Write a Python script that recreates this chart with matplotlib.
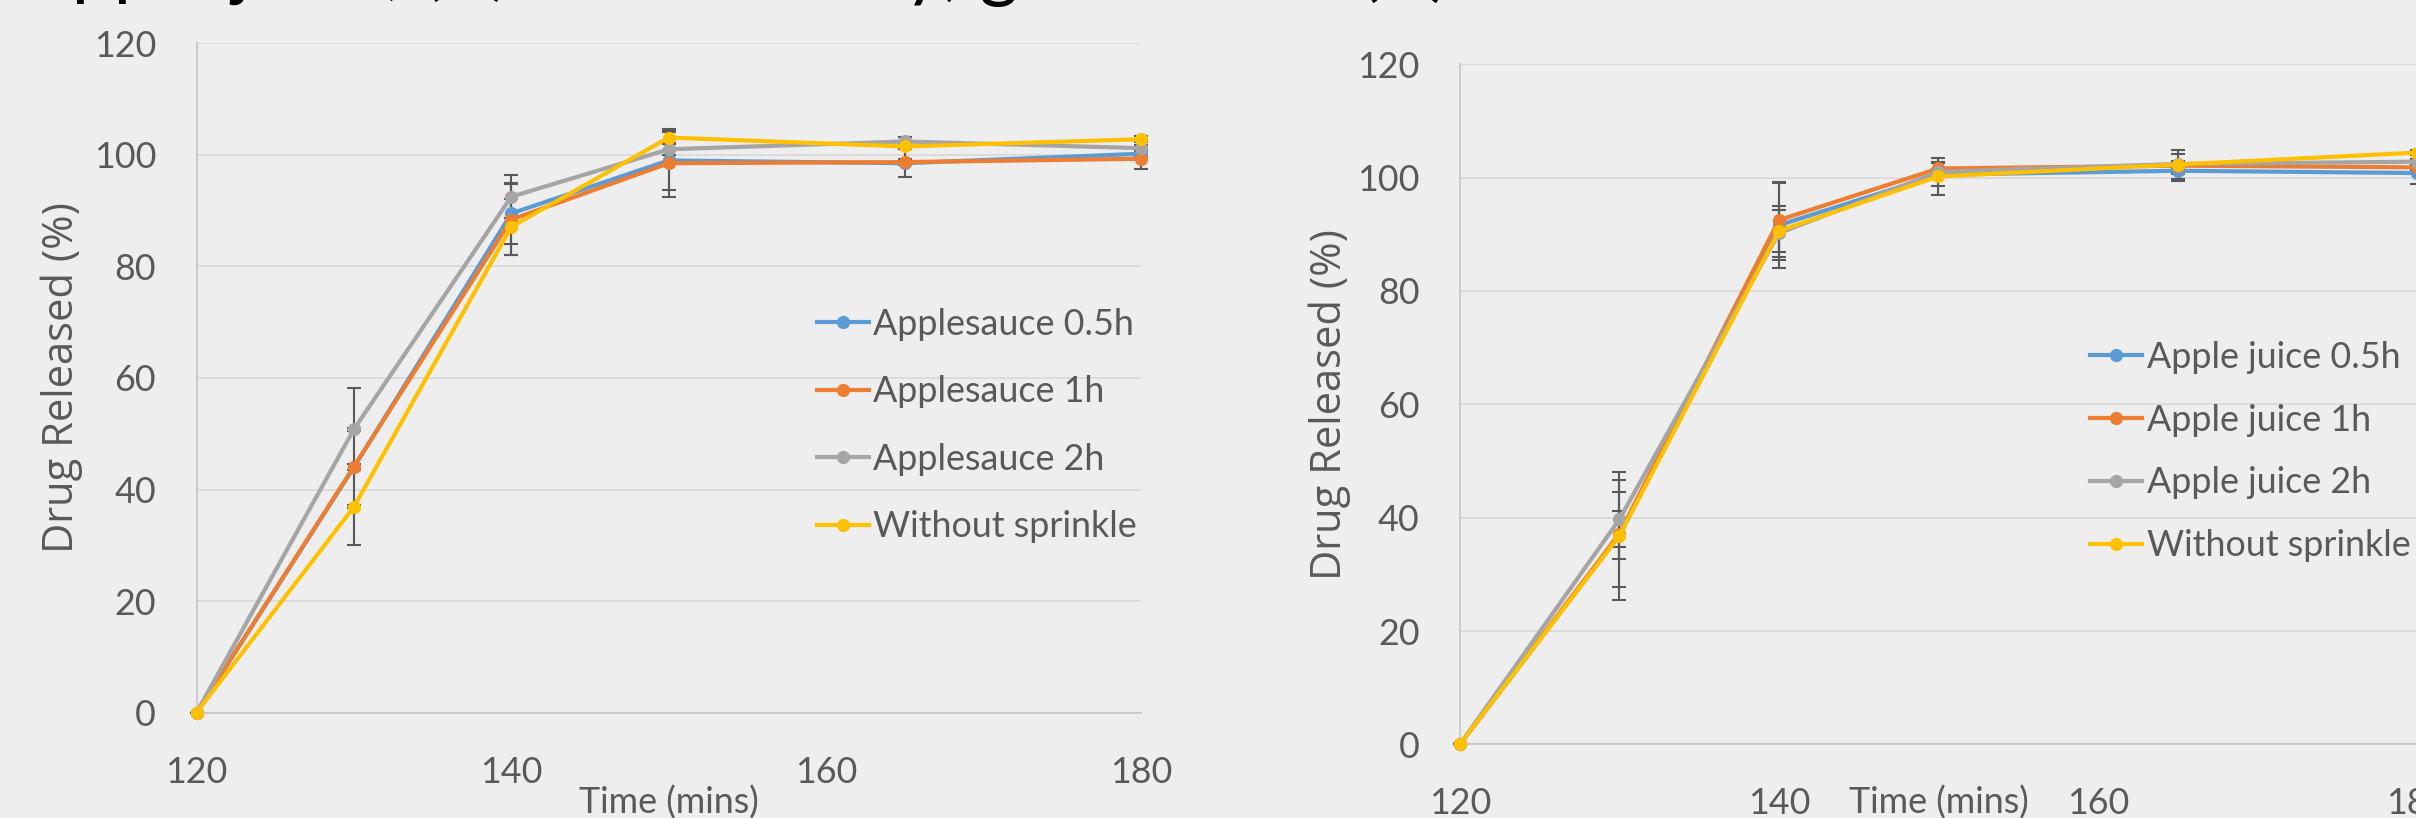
import matplotlib
matplotlib.use("Agg")
import matplotlib.pyplot as plt
from matplotlib.font_manager import FontProperties

# ---------------- data ----------------
time = [120, 130, 140, 150, 165, 180]
xticks = [120, 140, 160, 180]
yticks = [0, 20, 40, 60, 80, 100, 120]

sauce_labels = ["Applesauce 0.5h", "Applesauce 1h", "Applesauce 2h", "Without sprinkle"]
sauce_05 = [0, 44.0, 89.5, 99.0, 98.5, 100.2]
sauce_1 = [0, 44.1, 88.4, 98.5, 98.7, 99.3]
sauce_2 = [0, 50.8, 92.5, 101.0, 102.4, 101.2]
sauce_none = [0, 36.9, 87.1, 103.1, 101.5, 102.8]
sauce_05_err = [0, 0.5, 5.4, 5.3, 2.5, 0.5]
sauce_1_err = [0, 14.1, 6.4, 6.1, 0.5, 1.8]
sauce_2_err = [0, 0.3, 3.9, 1.0, 0.8, 0.5]
sauce_none_err = [0, 0.3, 5.0, 1.0, 0.5, 0.5]

juice_labels = ["Apple juice 0.5h", "Apple juice 1h", "Apple juice 2h", "Without sprinkle"]
juice_05 = [0, 36.9, 91.6, 100.5, 101.2, 100.8]
juice_1 = [0, 37.2, 92.5, 101.6, 102.1, 101.8]
juice_2 = [0, 39.7, 90.2, 101.0, 102.4, 102.8]
juice_none = [0, 36.8, 90.6, 100.2, 102.3, 104.4]
juice_05_err = [0, 4.2, 7.6, 2.0, 1.8, 2.0]
juice_1_err = [0, 9.5, 6.5, 1.2, 0.5, 0.5]
juice_2_err = [0, 4.8, 4.8, 0.5, 1.8, 0.5]
juice_none_err = [0, 11.3, 3.7, 3.2, 2.6, 0.5]

colors = ["#5B9BD5", "#ED7D31", "#A5A5A5", "#FFC000"]
caption_parts = ["Apple juice, (B)", "dairy, gel", "in milk (C)"]
xlabel = "Time (mins)"
ylabel = "Drug Released (%)"

# ---------------- style ----------------
BG = "#EEEEEE"
TXT = "#595959"
plt.rcParams["font.family"] = ["Lato", "DejaVu Sans"]

W, H = 2416, 818
fig = plt.figure(figsize=(W / 100, H / 100), dpi=100, facecolor=BG)


def px_axes(x0, x1, ytop, ybot):
    return fig.add_axes([x0 / W, 1 - ybot / H, (x1 - x0) / W, (ybot - ytop) / H])


def panel(ax, series, errs, labels, ylab_x, xlab_y, leg_anchor, leg_spacing):
    ax.set_facecolor(BG)
    for vals, err, c in zip(series, errs, colors):
        ax.errorbar(time, vals, yerr=err, fmt="none", ecolor=TXT, elinewidth=1.5,
                    capsize=5, capthick=1.5, zorder=2, clip_on=False)
    for vals, lab, c in zip(series, labels, colors):
        ax.plot(time, vals, color=c, lw=3.0, marker="o", ms=8.5, label=lab,
                zorder=3, clip_on=False)
    ax.set_xlim(120, 180)
    ax.set_ylim(0, 120)
    ax.set_xticks(xticks)
    ax.set_yticks(yticks)
    ax.tick_params(length=0, labelsize=25.8, labelcolor=TXT)
    ax.tick_params(axis="y", pad=29)
    ax.tick_params(axis="x", pad=31)
    ax.yaxis.grid(True, color="#D9D9D9", lw=1.3)
    ax.set_axisbelow(True)
    for s in ("top", "right"):
        ax.spines[s].set_visible(False)
    for s in ("left", "bottom"):
        ax.spines[s].set_color("#C8C8C8")
        ax.spines[s].set_linewidth(1.3)
    ax.set_ylabel(ylabel, family=["Open Sans", "DejaVu Sans"], fontsize=30, color=TXT, va="center")
    ax.yaxis.set_label_coords(ylab_x, 0.5)
    ax.set_xlabel(xlabel, fontsize=25.8, color=TXT, va="baseline")
    ax.xaxis.set_label_coords(0.5, xlab_y)
    ax.legend(loc="upper left", bbox_to_anchor=leg_anchor, frameon=False,
              fontsize=25.8, labelcolor=TXT, handlelength=1.46, handletextpad=0.12,
              labelspacing=leg_spacing, borderpad=0, borderaxespad=0, numpoints=1)


ax1 = px_axes(196.5, 1141, 43.3, 712.6)
panel(ax1, [sauce_05, sauce_1, sauce_2, sauce_none],
      [sauce_05_err, sauce_1_err, sauce_2_err, sauce_none_err],
      sauce_labels, -0.1424, -0.1515, (0.6567, 0.6045), 0.96)

ax2 = px_axes(1459.9, 2417, 64.2, 744.4)
panel(ax2, [juice_05, juice_1, juice_2, juice_none],
      [juice_05_err, juice_1_err, juice_2_err, juice_none_err],
      juice_labels, -0.1357, -0.1023, (0.6583, 0.5931), 0.83)

# cropped caption line at the very top (only descenders visible)
renderer = fig.canvas.get_renderer()
cap_prop = FontProperties(family=["Lato", "DejaVu Sans"], size=54)


def text_w(s):
    w, _, _ = renderer.get_text_width_height_descent(s, cap_prop, ismath=False)
    return w


x_first = 72 - text_w("A")
x_second = 904 - text_w("dair")
x_third = 1360 - text_w("in milk ")
base_y = 1 + 8 / H
for xpix, part in zip([x_first, x_second, x_third], caption_parts):
    fig.text(xpix / W, base_y, part, fontproperties=cap_prop, color="black",
             va="baseline", ha="left")

fig.savefig("out.png", dpi=100, facecolor=BG)
